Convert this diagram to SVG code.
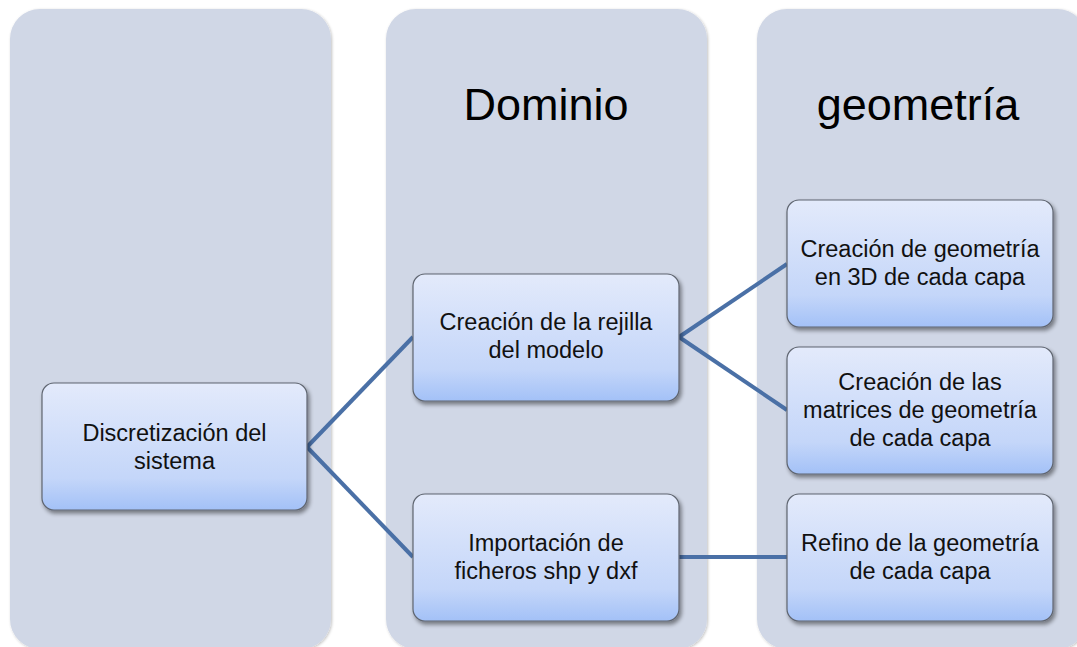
<svg xmlns="http://www.w3.org/2000/svg" width="1077" height="647" viewBox="0 0 1077 647">
<defs>
<linearGradient id="ng" x1="0" y1="0" x2="0" y2="1">
<stop offset="0" stop-color="#e3eafb"/>
<stop offset="0.75" stop-color="#c4d6f9"/>
<stop offset="1" stop-color="#a3c1f7"/>
</linearGradient>
<filter id="sh" x="-10%" y="-10%" width="125%" height="130%">
<feGaussianBlur in="SourceAlpha" stdDeviation="2"/>
<feOffset dx="1.5" dy="2.5" result="b"/>
<feComponentTransfer><feFuncA type="linear" slope="0.45"/></feComponentTransfer>
<feMerge><feMergeNode/><feMergeNode in="SourceGraphic"/></feMerge>
</filter>
<filter id="csh" x="-5%" y="-5%" width="110%" height="110%">
<feGaussianBlur in="SourceAlpha" stdDeviation="1.5"/>
<feOffset dx="0.5" dy="1"/>
<feComponentTransfer><feFuncA type="linear" slope="0.25"/></feComponentTransfer>
<feMerge><feMergeNode/><feMergeNode in="SourceGraphic"/></feMerge>
</filter>
</defs>
<style>
.col{fill:#d0d7e6;filter:url(#csh);}
.node{fill:url(#ng);stroke:#5f6570;stroke-width:1.2;filter:url(#sh);}
.title{font-family:"Liberation Sans",Arial,sans-serif;font-size:45px;fill:#000;text-anchor:middle;}
.lbl{font-family:"Liberation Sans",Arial,sans-serif;font-size:23.5px;fill:#111;text-anchor:middle;}
.conn{stroke:#4a70a6;stroke-width:4;fill:none;}
</style>
<rect width="1077" height="647" fill="#ffffff"/>
<g id="columns">
<rect class="col" x="10" y="9" width="321" height="640" rx="30"/>
<rect class="col" x="386" y="9" width="321" height="640" rx="30"/>
<rect class="col" x="757" y="9" width="330" height="640" rx="30"/>
</g>
<g id="titles">
<text class="title" x="546" y="120">Dominio</text>
<text class="title" x="918" y="120">geometría</text>
</g>
<g id="connectors">
<path class="conn" d="M307 447 L413 337"/>
<path class="conn" d="M307 447 L413 557"/>
<path class="conn" d="M679 337 L787 264"/>
<path class="conn" d="M679 337 L787 410"/>
<path class="conn" d="M679 557 L787 557"/>
</g>
<g id="n-discretizacion">
<rect class="node" x="42" y="383" width="265" height="127" rx="12"/>
<text class="lbl" x="174.5" y="441">Discretización del</text>
<text class="lbl" x="174.5" y="469">sistema</text>
</g>
<g id="n-rejilla">
<rect class="node" x="413" y="274" width="266" height="127" rx="12"/>
<text class="lbl" x="546" y="330">Creación de la rejilla</text>
<text class="lbl" x="546" y="358">del modelo</text>
</g>
<g id="n-importacion">
<rect class="node" x="413" y="494" width="266" height="127" rx="12"/>
<text class="lbl" x="546" y="551">Importación de</text>
<text class="lbl" x="546" y="579">ficheros shp y dxf</text>
</g>
<g id="n-geometria3d">
<rect class="node" x="787" y="200" width="266" height="127" rx="12"/>
<text class="lbl" x="920" y="257">Creación de geometría</text>
<text class="lbl" x="920" y="285">en 3D de cada capa</text>
</g>
<g id="n-matrices">
<rect class="node" x="787" y="347" width="266" height="127" rx="12"/>
<text class="lbl" x="920" y="390">Creación de las</text>
<text class="lbl" x="920" y="418">matrices de geometría</text>
<text class="lbl" x="920" y="446">de cada capa</text>
</g>
<g id="n-refino">
<rect class="node" x="787" y="494" width="266" height="127" rx="12"/>
<text class="lbl" x="920" y="551">Refino de la geometría</text>
<text class="lbl" x="920" y="579">de cada capa</text>
</g>
</svg>
